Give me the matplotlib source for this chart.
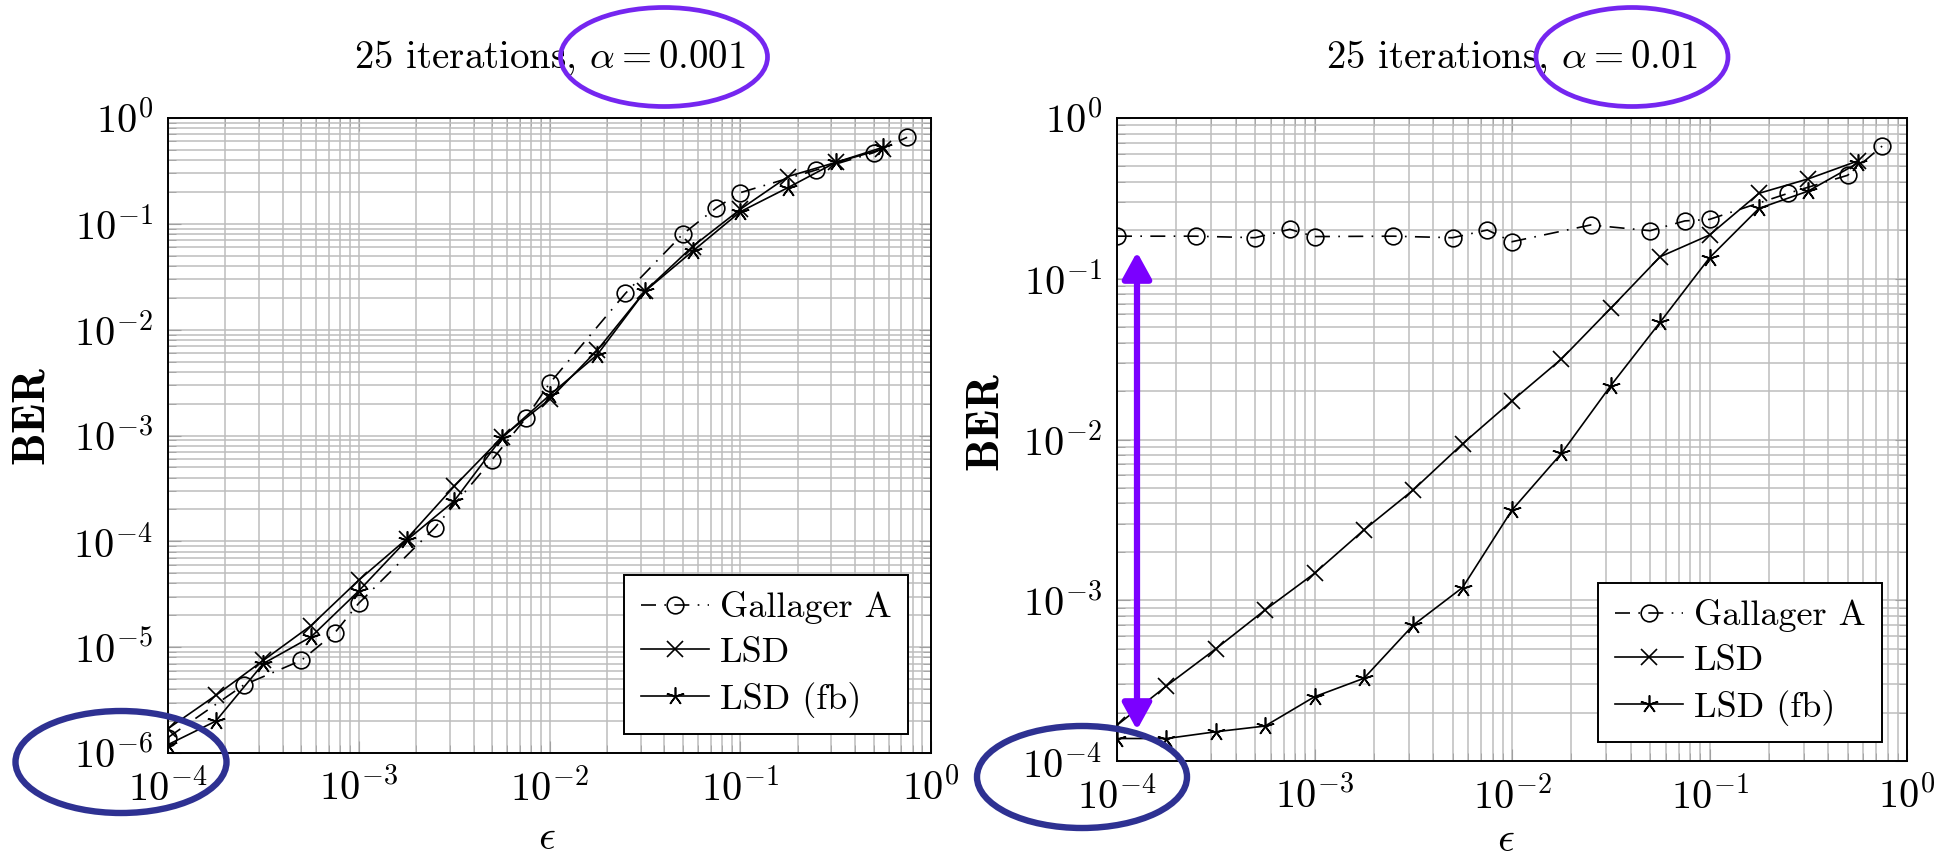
import matplotlib
matplotlib.use("Agg")
import matplotlib.pyplot as plt
import numpy as np
from matplotlib.patches import Ellipse, FancyArrowPatch
from matplotlib.ticker import LogLocator, NullFormatter, LogFormatterSciNotation

plt.rcParams["font.family"] = "serif"
plt.rcParams["font.serif"] = ["cmr10", "DejaVu Serif"]
plt.rcParams["mathtext.fontset"] = "cm"
plt.rcParams["axes.formatter.use_mathtext"] = True

W, H = 1948, 856

# epsilon grids
eps_gallager = [1e-4, 2.5e-4, 5e-4, 7.5e-4, 1e-3, 2.5e-3, 5e-3, 7.5e-3,
                1e-2, 2.5e-2, 5e-2, 7.5e-2, 0.1, 0.25, 0.5, 0.75]
eps_lsd = [1e-4, 1.78e-4, 3.16e-4, 5.62e-4, 1e-3, 1.78e-3, 3.16e-3, 5.62e-3,
           1e-2, 1.78e-2, 3.16e-2, 5.62e-2, 0.1, 0.178, 0.316, 0.562]

# alpha = 0.001
ber_gallager_a001 = [1.4e-6, 4.4e-6, 7.5e-6, 1.37e-5, 2.6e-5, 1.34e-4, 5.9e-4, 1.45e-3,
                     3.1e-3, 2.2e-2, 8.0e-2, 0.142, 0.197, 0.323, 0.47, 0.657]
ber_lsd_a001 = [1.7e-6, 3.5e-6, 7.5e-6, 1.6e-5, 4.3e-5, 1.05e-4, 3.3e-4, 9.6e-4,
                2.2e-3, 6.4e-3, 2.3e-2, 6.1e-2, 0.137, 0.28, 0.38, 0.51]
ber_lsdfb_a001 = [1.2e-6, 2.0e-6, 7.0e-6, 1.25e-5, 3.4e-5, 1.02e-4, 2.4e-4, 9.5e-4,
                  2.4e-3, 5.8e-3, 2.3e-2, 5.5e-2, 0.13, 0.22, 0.38, 0.53]

# alpha = 0.01
ber_gallager_a01 = [0.184, 0.184, 0.18, 0.203, 0.183, 0.184, 0.18, 0.201,
                    0.17, 0.216, 0.199, 0.229, 0.234, 0.34, 0.44, 0.67]
ber_lsd_a01 = [1.67e-4, 2.93e-4, 4.98e-4, 8.7e-4, 1.47e-3, 2.74e-3, 4.85e-3, 9.4e-3,
               1.74e-2, 3.17e-2, 6.55e-2, 0.137, 0.187, 0.34, 0.418, 0.54]
ber_lsdfb_a01 = [1.38e-4, 1.38e-4, 1.52e-4, 1.65e-4, 2.51e-4, 3.27e-4, 7.0e-4, 1.2e-3,
                 3.64e-3, 8.2e-3, 2.16e-2, 5.36e-2, 0.135, 0.274, 0.351, 0.523]

titles = [r"25 iterations, $\alpha = 0.001$", r"25 iterations, $\alpha = 0.01$"]
ylims = [(1e-6, 1e0), (1e-4, 1e0)]
labels = ["Gallager A", "LSD", "LSD (fb)"]


def px(x, y):
    return (x / W, 1 - y / H)


def draw_panel(ax, gal, lsd, lsdfb, title, ylim):
    ax.set_xscale("log")
    ax.set_yscale("log")
    ax.plot(eps_gallager, gal, color="black", lw=1.2, dashes=(9, 5, 1, 5),
            marker="o", ms=12, mfc="none", mec="black", mew=1.2, label=labels[0])
    ax.plot(eps_lsd, lsd, color="black", lw=1.2, marker="x", ms=12, mew=1.2,
            label=labels[1])
    ax.plot(eps_lsd, lsdfb, color="black", lw=1.2, marker=(5, 2, 0), ms=13, mew=1.2,
            label=labels[2])
    ax.set_xlim(1e-4, 1e0)
    ax.set_ylim(*ylim)
    for axis in (ax.xaxis, ax.yaxis):
        axis.set_major_locator(LogLocator(base=10, numticks=20))
        axis.set_minor_locator(LogLocator(base=10, subs=np.arange(2, 10), numticks=100))
        axis.set_minor_formatter(NullFormatter())
        axis.set_major_formatter(LogFormatterSciNotation())
    ax.grid(True, which="both", color="#bdbdbd", lw=1.1)
    ax.set_axisbelow(True)
    ax.tick_params(which="both", direction="in", top=True, right=True, color="#a0a0a0",
                   labelsize=29, pad=11)
    ax.tick_params(which="major", length=9)
    ax.tick_params(which="minor", length=6)
    for s in ax.spines.values():
        s.set_linewidth(1.4)
    ax.set_title(title, fontsize=28, pad=36)
    ax.set_xlabel(r"$\epsilon$", fontsize=30, va="center")
    ax.set_ylabel(r"$\mathbf{BER}$", fontsize=33)


fig = plt.figure(figsize=(W / 100, H / 100), dpi=100)
ax1 = fig.add_axes([168 / W, 1 - 753 / H, (931 - 168) / W, (753 - 118) / H])
ax2 = fig.add_axes([1117 / W, 1 - 761 / H, (1907 - 1117) / W, (761 - 118) / H])

draw_panel(ax1, ber_gallager_a001, ber_lsd_a001, ber_lsdfb_a001, titles[0], ylims[0])
draw_panel(ax2, ber_gallager_a01, ber_lsd_a01, ber_lsdfb_a01, titles[1], ylims[1])

ax1.yaxis.set_label_coords(-0.150, 0.53)
ax2.yaxis.set_label_coords(-0.138, 0.527)
ax1.xaxis.set_label_coords(0.497, -0.135)
ax2.xaxis.set_label_coords(0.492, -0.124)

for ax, anchor in ((ax1, px(908, 734)), (ax2, px(1882, 742))):
    leg = ax.legend(loc="lower right", bbox_to_anchor=anchor, bbox_transform=fig.transFigure,
                    fontsize=26, fancybox=False, framealpha=1, edgecolor="black",
                    handlelength=1.9, handletextpad=0.3, labelspacing=0.35,
                    borderaxespad=0, borderpad=0.45)
    leg.get_frame().set_linewidth(1.4)

# hand-drawn highlights
violet = "#7526f0"
navy = "#2e3192"
for cx, cy, w, h, col, lw in [(664, 57, 207, 99, violet, 3.4), (1632, 57, 192, 99, violet, 3.4),
                              (121, 762, 211, 102, navy, 4.6), (1082, 777, 210, 102, navy, 4.6)]:
    fig.add_artist(Ellipse(px(cx, cy), w / W, h / H, transform=fig.transFigure,
                           fill=False, edgecolor=col, lw=lw, zorder=10))

arrow = FancyArrowPatch(px(1137, 252), px(1137, 730), transform=fig.transFigure,
                        arrowstyle="<|-|>,head_length=0.4,head_width=0.22",
                        mutation_scale=40, color="#7b00ff", lw=4.5,
                        shrinkA=0, shrinkB=0, zorder=10)
fig.add_artist(arrow)

fig.savefig("out.png", dpi=100)
